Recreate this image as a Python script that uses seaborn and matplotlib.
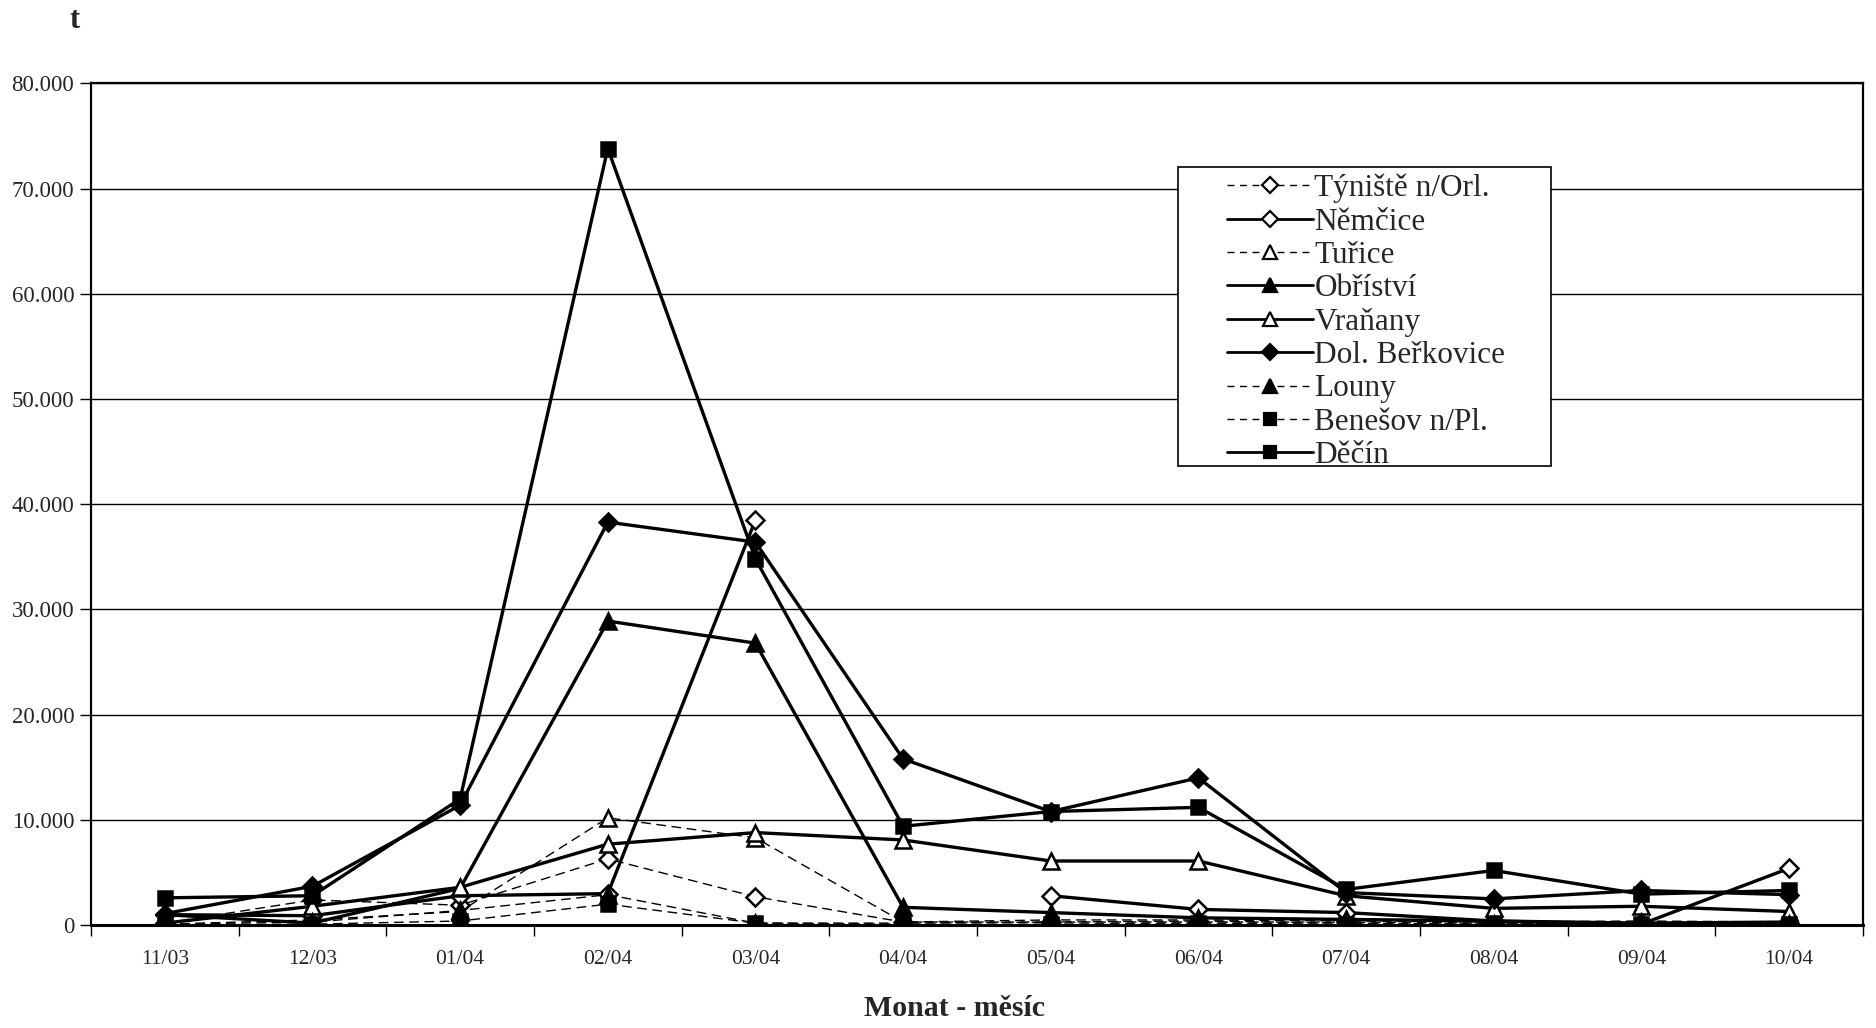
import numpy as np
import pandas as pd
import seaborn as sns
import matplotlib.pyplot as plt
from matplotlib.lines import Line2D
from matplotlib.patches import Rectangle
from matplotlib.ticker import FuncFormatter, FixedLocator

months = ["11/03", "12/03", "01/04", "02/04", "03/04", "04/04",
          "05/04", "06/04", "07/04", "08/04", "09/04", "10/04"]

tyniste = [200, 2400, 1900, 6300, 2700, 300, 300, 300, 300, 200, 200, 200]
nemcice = [1000, 900, 2800, 3000, 38500, np.nan, 2800, 1500, 1200, 400, 100, 5400]
turice = [100, 500, 1300, 10200, 8300, 300, 500, 500, 400, 300, 400, 300]
obristvi = [1000, 200, 3500, 28900, 26800, 1700, 1200, 700, 550, 400, 200, 300]
vranany = [200, 1800, 3600, 7700, 8800, 8100, 6100, 6100, 2800, 1600, 1800, 1300]
dol_berkovice = [1100, 3700, 11400, 38300, 36400, 15800, 10800, 14000, 3100, 2500, 3300, 2900]
louny = [100, 300, 1400, 2900, 200, 200, 300, 400, 200, 100, 300, 100]
benesov = [0, 100, 400, 2000, 200, 100, 100, 200, 100, 100, 100, 100]
decin = [2600, 2800, 12000, 73800, 34800, 9400, 10800, 11200, 3400, 5200, 2950, 3300]

series = {
    "Týniště n/Orl.": tyniste,
    "Němčice": nemcice,
    "Tuřice": turice,
    "Obříství": obristvi,
    "Vraňany": vranany,
    "Dol. Beřkovice": dol_berkovice,
    "Louny": louny,
    "Benešov n/Pl.": benesov,
    "Děčín": decin,
}

# line style, marker, filled
styles = {
    "Týniště n/Orl.": ("--", "D", False),
    "Němčice": ("-", "D", False),
    "Tuřice": ("--", "^", False),
    "Obříství": ("-", "^", True),
    "Vraňany": ("-", "^", False),
    "Dol. Beřkovice": ("-", "D", True),
    "Louny": ("--", "^", True),
    "Benešov n/Pl.": ("--", "s", True),
    "Děčín": ("-", "s", True),
}

sns.set_theme(style="white")
plt.rcParams['font.family'] = ['Liberation Serif', 'DejaVu Serif']

fig = plt.figure(figsize=(18.76, 10.28), dpi=100)
ax = fig.add_axes([0.0485, 0.100, 0.9445, 0.819])

handles = []
for i, (name, vals) in enumerate(series.items()):
    ls, mk, filled = styles[name]
    df = pd.DataFrame({"pos": np.arange(len(months)), "value": vals})
    df["seg"] = df["value"].isna().cumsum()
    df = df.dropna()
    lw = 2.4 if ls == "-" else 1.0
    ms = 10 if mk == "s" else (11 if mk == "^" else 9)
    kw = dict(color="black", linewidth=lw, marker=mk, markersize=ms,
              markerfacecolor="black" if filled else "white",
              markeredgecolor="black", markeredgewidth=1.8)
    if ls == "--":
        kw["dashes"] = (7, 4)
    sns.lineplot(data=df, x="pos", y="value", units="seg", estimator=None,
                 ax=ax, legend=False, zorder=3 + i, **kw)
    h = Line2D([], [], linestyle=ls, color="black", linewidth=2.0 if ls == "-" else 1.0,
               marker=mk, markersize=ms - 1,
               markerfacecolor="black" if filled else "white",
               markeredgecolor="black", markeredgewidth=1.6)
    if ls == "--":
        h.set_dashes((5, 4))
    handles.append(h)

ax.set_xlim(-0.5, len(months) - 0.5)
ax.set_ylim(0, 80000)
ax.yaxis.set_major_locator(FixedLocator(np.arange(0, 80001, 10000)))
ax.yaxis.set_major_formatter(FuncFormatter(lambda v, p: f"{int(v):,}".replace(",", ".")))
ax.grid(axis="y", color="black", linewidth=1.0)
ax.set_axisbelow(True)

ax.set_xticks(np.arange(-0.5, len(months), 1.0))
ax.set_xticklabels([])
ax.set_xticks(np.arange(len(months)), minor=True)
ax.set_xticklabels(months, minor=True)
ax.tick_params(axis="x", which="major", direction="out", length=8, width=1, color="black", bottom=True)
ax.tick_params(axis="x", which="minor", length=0, pad=18, labelsize=15.5)
ax.tick_params(axis="y", direction="out", length=8, width=1, color="black", left=True, labelsize=16.5, pad=4)

for s in ax.spines.values():
    s.set_color("black")
    s.set_linewidth(1.6)
ax.spines["bottom"].set_linewidth(2.2)

ax.set_xlabel("")
ax.set_ylabel("")

fig.text(0.040, 0.980, "t", fontsize=22, fontweight="bold", ha="center", va="center")
fig.text(0.509, 0.0185, "Monat - měsíc", fontsize=21.5, fontweight="bold", ha="center", va="center")

# legend box like the original: wide left margin
box = Rectangle((0.628, 0.547), 0.199, 0.291, transform=fig.transFigure,
                facecolor="white", edgecolor="black", linewidth=1.2, zorder=19)
fig.add_artist(box)
leg = fig.legend(handles, list(series.keys()), loc="upper left",
                 bbox_to_anchor=(0.654, 0.831), frameon=False,
                 fontsize=22.5, handlelength=2.75, handletextpad=0.05,
                 labelspacing=0.14, borderpad=0, borderaxespad=0)
leg.set_zorder(20)

fig.savefig("out.png", dpi=100, facecolor="white")
